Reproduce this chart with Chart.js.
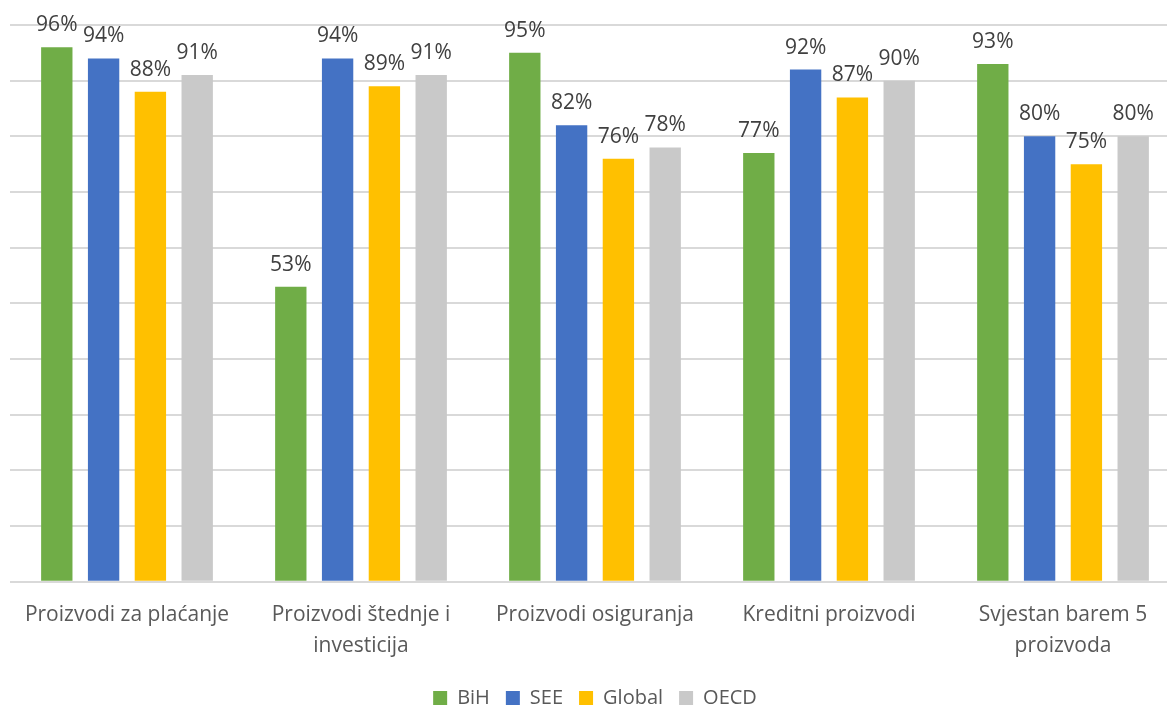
<!DOCTYPE html>
<html>
<head>
<meta charset="utf-8">
<script src="https://cdn.jsdelivr.net/npm/chart.js@4"></script>
<style>
  html, body { margin: 0; padding: 0; background: #fff; overflow: hidden; }
  #wrap { width: 1180px; height: 706px; }
</style>
</head>
<body>
<div id="wrap"><canvas id="chart"></canvas></div>
<script>
// Kategorije i vrijednosti (%)
const categories = [
    'Proizvodi za plaćanje',
    ['Proizvodi štednje i', 'investicija'],
    'Proizvodi osiguranja',
    'Kreditni proizvodi',
    ['Svjestan barem 5', 'proizvoda']
];
const seriesNames = ['BiH', 'SEE', 'Global', 'OECD'];
const bihValues = [96, 53, 95, 77, 93];
const seeValues = [94, 94, 82, 92, 80];
const globalValues = [88, 89, 76, 87, 75];
const oecdValues = [91, 91, 78, 90, 80];
const colors = ['#70ad47', '#4472c4', '#ffc000', '#c9c9c9'];

const FONT = "'Open Sans', sans-serif";

// Ispis vrijednosti iznad stupaca
const valueLabels = {
    id: 'valueLabels',
    afterDatasetsDraw(chart) {
        const ctx = chart.ctx;
        ctx.save();
        ctx.font = `21px ${FONT}`;
        ctx.fillStyle = '#404040';
        ctx.textAlign = 'center';
        ctx.textBaseline = 'middle';
        chart.data.datasets.forEach((ds, i) => {
            const meta = chart.getDatasetMeta(i);
            meta.data.forEach((bar, j) => {
                ctx.fillText(ds.data[j] + '%', bar.x, bar.y - 22);
            });
        });
        ctx.restore();
    }
};

const allSeries = [bihValues, seeValues, globalValues, oecdValues];

new Chart(document.getElementById('chart'), {
    type: 'bar',
    data: {
        labels: categories,
        datasets: allSeries.map((vals, i) => ({
            label: seriesNames[i],
            data: vals,
            backgroundColor: colors[i],
            borderWidth: 0,
            categoryPercentage: 0.8,
            barPercentage: 0.67
        }))
    },
    options: {
        responsive: true,
        maintainAspectRatio: false,
        animation: false,
        layout: { padding: { top: 25, right: 0, left: 10, bottom: -12 } },
        plugins: {
            legend: {
                position: 'bottom',
                labels: {
                    font: { family: FONT, size: 20 },
                    color: '#595959',
                    boxWidth: 14,
                    boxHeight: 14,
                    padding: 16
                }
            },
            tooltip: { enabled: false }
        },
        scales: {
            x: {
                grid: { display: false },
                border: { display: false },
                ticks: {
                    font: { family: FONT, size: 21, lineHeight: 1.48 },
                    color: '#595959',
                    padding: 10,
                    maxRotation: 0
                }
            },
            y: {
                min: 0,
                max: 100,
                ticks: { stepSize: 10, display: false },
                grid: { color: '#d9d9d9', lineWidth: 2, drawTicks: false },
                border: { display: false }
            }
        }
    },
    plugins: [valueLabels]
});
</script>
</body>
</html>
